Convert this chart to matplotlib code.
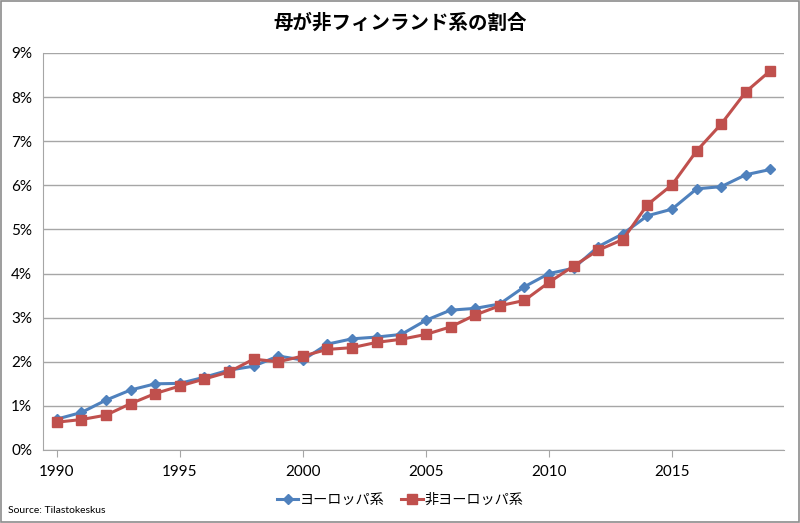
import matplotlib.pyplot as plt
from matplotlib.patches import Rectangle
from matplotlib.ticker import PercentFormatter

plt.rcParams['font.family'] = ['Lato', 'Noto Sans CJK JP', 'DejaVu Sans']

years = list(range(1990, 2020))
europe = [0.70, 0.85, 1.13, 1.36, 1.50, 1.51, 1.65, 1.81, 1.90, 2.13,
          2.04, 2.40, 2.52, 2.56, 2.62, 2.94, 3.17, 3.21, 3.31, 3.70,
          4.00, 4.12, 4.61, 4.90, 5.31, 5.46, 5.92, 5.97, 6.24, 6.36]
non_europe = [0.63, 0.69, 0.79, 1.05, 1.28, 1.45, 1.61, 1.77, 2.06, 2.00,
              2.13, 2.28, 2.32, 2.44, 2.51, 2.62, 2.79, 3.06, 3.27, 3.39,
              3.80, 4.17, 4.53, 4.77, 5.56, 6.01, 6.78, 7.39, 8.12, 8.60]
labels = ["ヨーロッパ系", "非ヨーロッパ系"]
tick_years = [1990, 1995, 2000, 2005, 2010, 2015]

fig = plt.figure(figsize=(8, 5.23), dpi=100)
ax = fig.add_axes([0.054, 0.1396, 0.926, 0.7591])

ax.plot(years, europe, color="#4F81BD", lw=2.2, marker="D", ms=5,
        label=labels[0])
ax.plot(years, non_europe, color="#C0504D", lw=2.2, marker="s", ms=6.5,
        label=labels[1])

ax.set_ylim(0, 9)
ax.set_yticks(range(0, 10))
ax.yaxis.set_major_formatter(PercentFormatter(decimals=0))
ax.set_xlim(1989.45, 2019.55)
ax.set_xticks(tick_years)

ax.grid(axis="y", color="#A6A6A6", lw=1)
ax.set_axisbelow(True)
for s in ["top", "right"]:
    ax.spines[s].set_visible(False)
for s in ["left", "bottom"]:
    ax.spines[s].set_color("#A6A6A6")
ax.tick_params(axis="y", length=0, labelsize=11, pad=8)
ax.tick_params(axis="x", length=5, color="#A6A6A6", labelsize=11, pad=6)

fig.text(0.5, 0.957, "母が非フィンランド系の割合", ha="center", va="center",
         fontsize=14, fontweight="bold")
ax.legend(loc="center", bbox_to_anchor=(0.5, 0.045), bbox_transform=fig.transFigure,
          ncol=2, frameon=False, fontsize=10.2, handlelength=1.5, columnspacing=1.2,
          handletextpad=0.1)
fig.text(0.010, 0.015, "Source: Tilastokeskus", fontsize=7.5, ha="left", va="bottom")

fig.add_artist(Rectangle((0.001, 0.001), 0.998, 0.997, transform=fig.transFigure,
                         fill=False, edgecolor="#8C8C8C", lw=1.2))

fig.savefig("out.png", dpi=100)
